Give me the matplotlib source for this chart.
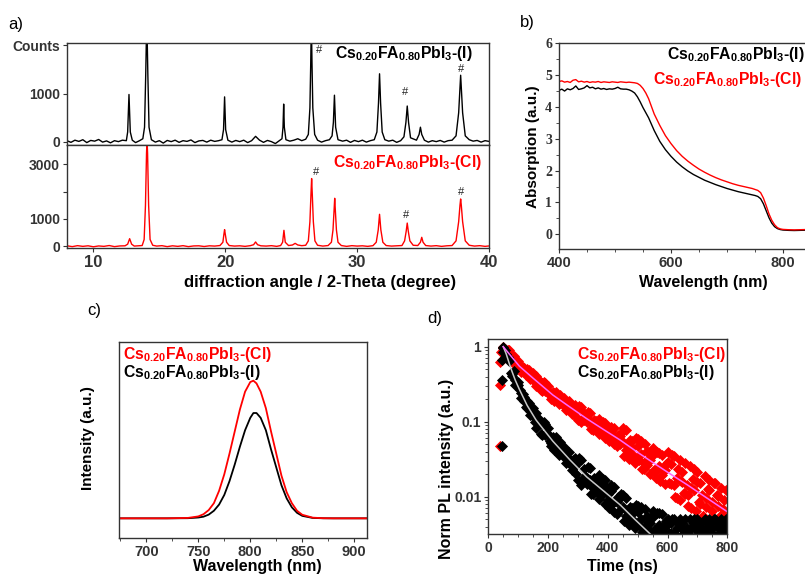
import matplotlib
matplotlib.use('Agg')
import matplotlib.pyplot as plt
from matplotlib.ticker import MultipleLocator, FixedLocator, LogLocator, NullFormatter, FixedFormatter

# ---------------- data ----------------
# a) XRD traces
xrd_I_x = [8.0, 8.3, 8.6, 8.9, 9.2, 9.5, 9.8, 10.1, 10.4, 10.7, 11.0, 11.3, 11.6, 11.9, 12.2, 12.5,
           12.6, 12.66, 12.7, 12.74, 12.8, 12.95, 13.2, 13.5, 13.75, 13.88, 13.97, 14.05, 14.13, 14.22, 14.4,
           14.7, 15.0, 15.3, 15.6, 15.9, 16.2, 16.5, 16.8, 17.1, 17.4, 17.7, 18.0, 18.3, 18.6, 18.9, 19.2, 19.5,
           19.75, 19.87, 19.92, 19.95, 19.98, 20.03, 20.2, 20.5, 20.8, 21.1, 21.4, 21.7, 22.0, 22.3, 22.6, 22.9,
           23.2, 23.5, 23.8, 24.1, 24.3, 24.38, 24.43, 24.48, 24.6, 24.9, 25.2, 25.5, 25.8, 26.1, 26.3, 26.42,
           26.48, 26.53, 26.58, 26.64, 26.78, 27.0, 27.3, 27.6, 27.9, 28.1, 28.2, 28.25, 28.28, 28.31, 28.37,
           28.55, 28.9, 29.2, 29.5, 29.8, 30.1, 30.4, 30.7, 31.0, 31.3, 31.5, 31.62, 31.7, 31.78, 31.9, 32.1,
           32.4, 32.7, 33.0, 33.3, 33.55, 33.7, 33.8, 33.9, 34.05, 34.5, 34.7, 34.8, 34.9, 35.1, 35.4, 35.7,
           36.0, 36.3, 36.6, 36.9, 37.2, 37.5, 37.7, 37.85, 38.0, 38.2, 38.5, 38.8, 39.1, 39.4, 39.7, 40.0]
xrd_I_y = [20, -15, 30, 5, 40, -20, 25, 10, 45, -10, 15, -25, 20, 0, 30, 20,
           200, 650, 980, 650, 200, 30, -20, 20, 60, 300, 1400, 2600, 1400, 300, 40,
           -10, 20, -30, 25, 0, 30, -15, 20, 5, 35, -20, 15, 25, -10, 30, 5, 20,
           40, 250, 650, 930, 650, 250, 30, -10, 25, 0, 30, -20, 20, 110, 30, -15,
           25, 0, -40, 20, 60, 300, 780, 300, 40, 10, 30, 60, 20, 50, 150, 700,
           1600, 2500, 1600, 700, 150, 30, -10, 20, 40, 120, 400, 750, 965, 750, 300,
           40, 10, 30, -15, 25, 0, 30, -10, 20, 40, 200, 800, 1410, 800, 200, 40,
           10, 30, -15, 20, 100, 400, 740, 400, 80, 30, 150, 300, 150, 30, -10, 20,
           0, 25, -10, 20, 30, 120, 600, 1380, 600, 120, 40, 10, 25, -10, 20, 5]

xrd_Cl_x = [8.0, 8.4, 8.8, 9.2, 9.6, 10.0, 10.4, 10.8, 11.2, 11.6, 12.0, 12.4, 12.6, 12.75, 12.9, 13.1, 13.4, 13.7,
            13.85, 13.95, 14.03, 14.07, 14.11, 14.19, 14.3, 14.5, 14.8, 15.2, 15.6, 16.0, 16.4, 16.8, 17.2, 17.6,
            18.0, 18.4, 18.8, 19.2, 19.6, 19.82, 19.9, 19.95, 20.0, 20.1, 20.3, 20.7, 21.1, 21.5, 21.9, 22.15,
            22.3, 22.45, 22.7, 23.1, 23.5, 23.9, 24.2, 24.35, 24.45, 24.55, 24.8, 25.1, 25.3, 25.5, 25.8, 26.1,
            26.3, 26.42, 26.5, 26.55, 26.6, 26.68, 26.8, 27.0, 27.4, 27.8, 28.05, 28.17, 28.25, 28.3, 28.35,
            28.43, 28.55, 28.8, 29.2, 29.6, 30.0, 30.4, 30.8, 31.2, 31.45, 31.6, 31.7, 31.8, 31.95, 32.2, 32.6,
            33.0, 33.4, 33.6, 33.72, 33.8, 33.88, 34.0, 34.25, 34.6, 34.8, 34.9, 35.0, 35.2, 35.6, 36.0, 36.4,
            36.8, 37.2, 37.5, 37.7, 37.8, 37.85, 37.9, 38.0, 38.2, 38.5, 38.9, 39.3, 39.7, 40.0]
xrd_Cl_y = [20, -10, 25, 0, 20, -15, 15, 0, 30, -10, 15, 20, 80, 280, 80, 10, 20, 30,
            250, 1500, 3400, 3900, 3400, 1500, 250, 40, 10, 25, -10, 20, 0, 25, -10, 15,
            20, -5, 20, 10, 30, 150, 450, 610, 450, 150, 30, 10, 20, 0, 25, 60,
            160, 60, 20, 10, 25, 0, 30, 150, 585, 150, 30, 50, 110, 50, 25, 40,
            200, 900, 1900, 2475, 1900, 900, 200, 40, 10, 30, 150, 600, 1300, 1755, 1300,
            600, 150, 30, 0, 25, 10, 20, 0, 25, 150, 600, 1170, 600, 150, 30, 10,
            20, 30, 200, 550, 850, 550, 200, 40, 30, 150, 330, 150, 30, 10, 25, 0,
            20, 30, 200, 900, 1500, 1730, 1500, 900, 200, 40, 10, 25, 0, 15]

hash_I_x = [27.14, 33.66, 37.85]
hash_I_y = [1900, 1035, 1500]
hash_Cl_x = [26.9, 33.74, 37.85]
hash_Cl_y = [2716, 1127, 1975]

# b) absorption
abs_x = [400, 405, 410, 415, 420, 425, 430, 435, 440, 445, 450, 455, 460, 465, 470, 475, 480, 485, 490, 495,
         500, 505, 510, 515, 520, 525, 530, 535, 540, 545, 550, 555, 560, 565,
         570, 580, 590, 600, 610, 620, 630, 640, 650, 660, 670, 680, 690, 700, 710, 720, 730, 740,
         745, 750, 755, 760, 765, 770, 775, 780, 785, 790, 795, 800,
         810, 820, 830, 840, 850]
abs_I = [4.52, 4.56, 4.50, 4.57, 4.54, 4.58, 4.66, 4.55, 4.57, 4.60, 4.67, 4.60, 4.62, 4.57, 4.60, 4.56, 4.58, 4.55, 4.57, 4.56,
         4.58, 4.62, 4.57, 4.56, 4.56, 4.54, 4.50, 4.44, 4.32, 4.16, 3.98, 3.82, 3.66, 3.46,
         3.26, 2.92, 2.66, 2.45, 2.27, 2.12, 1.99, 1.88, 1.79, 1.70, 1.63, 1.56, 1.50, 1.44, 1.39, 1.34, 1.30, 1.26,
         1.24, 1.22, 1.19, 1.12, 0.96, 0.74, 0.52, 0.35, 0.24, 0.18, 0.15, 0.135,
         0.125, 0.12, 0.125, 0.13, 0.13]
abs_Cl = [4.80, 4.82, 4.78, 4.80, 4.77, 4.84, 4.86, 4.79, 4.81, 4.78, 4.80, 4.77, 4.79, 4.78, 4.80, 4.77, 4.79, 4.78, 4.77, 4.79,
          4.78, 4.77, 4.79, 4.78, 4.77, 4.78, 4.77, 4.76, 4.74, 4.68, 4.58, 4.44, 4.26, 4.02,
          3.78, 3.42, 3.10, 2.85, 2.63, 2.45, 2.30, 2.17, 2.05, 1.95, 1.86, 1.78, 1.71, 1.65, 1.59, 1.54, 1.50, 1.46,
          1.44, 1.41, 1.38, 1.31, 1.14, 0.90, 0.64, 0.44, 0.30, 0.21, 0.17, 0.155,
          0.145, 0.14, 0.145, 0.15, 0.15]

# c) PL spectra
pl_x = [674, 700, 720, 740, 750, 755, 760, 765, 770, 775, 780, 785, 790, 795, 800, 803, 806, 810, 815, 820,
        825, 830, 835, 840, 845, 850, 860, 870, 880, 912]
pl_Cl = [0, 0, 0, 0.003, 0.014, 0.03, 0.06, 0.11, 0.2, 0.32, 0.47, 0.63, 0.79, 0.92, 0.99, 1.0, 0.98, 0.92, 0.8, 0.63,
         0.47, 0.31, 0.19, 0.11, 0.055, 0.026, 0.005, 0.001, 0, 0]
pl_I = [0, 0, 0, 0.001, 0.006, 0.012, 0.027, 0.055, 0.1, 0.17, 0.27, 0.39, 0.52, 0.64, 0.73, 0.765, 0.765, 0.73, 0.64, 0.5,
        0.37, 0.24, 0.145, 0.08, 0.04, 0.018, 0.003, 0.0005, 0, 0]

# d) TRPL decays (scattered data points, three interleaved read-outs per trace)
trpl_t = list(range(50, 801, 10))
trpl_t_b = list(range(55, 796, 10))
red_a = [1.0, 0.841, 0.849, 0.638, 0.642, 0.644, 0.466, 0.512, 0.419, 0.412,
         0.445, 0.298, 0.324, 0.324, 0.255, 0.3, 0.201, 0.238, 0.207, 0.178,
         0.197, 0.145, 0.187, 0.139, 0.142, 0.105, 0.156, 0.131, 0.098, 0.103,
         0.077, 0.103, 0.108, 0.073, 0.061, 0.073, 0.076, 0.082, 0.048, 0.051,
         0.054, 0.077, 0.039, 0.055, 0.028, 0.059, 0.037, 0.028, 0.041, 0.020,
         0.044, 0.022, 0.0255, 0.036, 0.0149, 0.029, 0.0149, 0.0353, 0.0178, 0.0091,
         0.0215, 0.0277, 0.0104, 0.0071, 0.0124, 0.0216, 0.015, 0.0056, 0.0072, 0.0169,
         0.0086, 0.0044, 0.0103, 0.0132, 0.005, 0.0063]
red_b = [0.946, 0.898, 0.675, 0.76, 0.572, 0.545, 0.534, 0.415, 0.482, 0.373,
         0.338, 0.367, 0.266, 0.339, 0.268, 0.228, 0.247, 0.25, 0.171, 0.188,
         0.207, 0.166, 0.143, 0.158, 0.116, 0.161, 0.107, 0.113, 0.134, 0.079,
         0.106, 0.079, 0.084, 0.0995, 0.0837, 0.0557, 0.0591, 0.0627, 0.0661, 0.07,
         0.0345, 0.049, 0.0566, 0.035, 0.0613, 0.0308, 0.0236, 0.0507, 0.0315, 0.0364,
         0.0225, 0.0396, 0.0163, 0.0233, 0.0269, 0.0153, 0.0363, 0.0099, 0.0235, 0.0163,
         0.0113, 0.0145, 0.0253, 0.0174, 0.0065, 0.0084, 0.0106, 0.0186, 0.0128, 0.0048,
         0.0154, 0.0106, 0.0055, 0.0069, 0.0121]
red_c = [0.96, 0.895, 0.897, 0.674, 0.571, 0.61, 0.524, 0.454, 0.5, 0.367,
         0.38, 0.411, 0.35, 0.255, 0.324, 0.256, 0.218, 0.187, 0.224, 0.227,
         0.167, 0.185, 0.16, 0.128, 0.166, 0.149, 0.098, 0.104, 0.11, 0.13,
         0.086, 0.092, 0.068, 0.092, 0.097, 0.065, 0.086, 0.051, 0.061, 0.064,
         0.0815, 0.0413, 0.0317, 0.045, 0.034, 0.048, 0.0559, 0.0231, 0.0267, 0.031,
         0.0357, 0.0178, 0.0385, 0.0194, 0.0226, 0.0396, 0.0273, 0.0141, 0.0096, 0.0312,
         0.0158, 0.011, 0.0076, 0.0132, 0.0231, 0.0158, 0.0081, 0.0056, 0.0097, 0.0124,
         0.0064, 0.0151, 0.0076, 0.0038, 0.0091, 0.0047]
blk_a = [1.0, 0.744, 0.642, 0.409, 0.36, 0.334, 0.209, 0.214, 0.153, 0.14,
         0.151, 0.083, 0.093, 0.093, 0.066, 0.083, 0.047, 0.059, 0.048, 0.038,
         0.044, 0.028, 0.04, 0.026, 0.026, 0.0166, 0.0305, 0.0234, 0.0149, 0.0166,
         0.0107, 0.0174, 0.0196, 0.0104, 0.0079, 0.0107, 0.0119, 0.0133, 0.0059, 0.0066,
         0.0073, 0.0097, 0.0051, 0.007, 0.0038, 0.0075, 0.005, 0.004, 0.0055, 0.0031,
         0.0064, 0.0036, 0.0042, 0.0059, 0.0028, 0.0044, 0.0033, 0.005, 0.0038, 0.0029,
         0.0044, 0.005, 0.0033, 0.0029, 0.0038, 0.005, 0.0044, 0.0029, 0.0033, 0.005,
         0.0038, 0.0029, 0.0044, 0.005, 0.0033, 0.0038]
blk_b = [0.9, 0.738, 0.452, 0.472, 0.298, 0.265, 0.235, 0.157, 0.175, 0.121,
         0.0997, 0.111, 0.0695, 0.0983, 0.07, 0.0552, 0.0627, 0.063, 0.0356, 0.041,
         0.0466, 0.0335, 0.0271, 0.0308, 0.0198, 0.0326, 0.0168, 0.0188, 0.0251, 0.011,
         0.018, 0.0116, 0.013, 0.0174, 0.0133, 0.0071, 0.0079, 0.0088, 0.0098, 0.011,
         0.0048, 0.0064, 0.0072, 0.0046, 0.0078, 0.0042, 0.0034, 0.0068, 0.0046, 0.0053,
         0.0036, 0.0061, 0.0028, 0.0041, 0.0048, 0.0033, 0.005, 0.0029, 0.0044, 0.0038,
         0.0033, 0.0038, 0.005, 0.0044, 0.0029, 0.0033, 0.0038, 0.005, 0.0044, 0.0029,
         0.005, 0.0044, 0.0033, 0.0038, 0.005]
blk_c = [0.95, 0.8, 0.69, 0.437, 0.313, 0.31, 0.24, 0.186, 0.19, 0.122,
         0.12, 0.132, 0.104, 0.066, 0.093, 0.066, 0.0525, 0.0419, 0.0538, 0.0542,
         0.0347, 0.0392, 0.032, 0.0229, 0.0328, 0.0288, 0.0145, 0.0162, 0.018, 0.0241,
         0.0129, 0.0145, 0.0093, 0.015, 0.0167, 0.0089, 0.0144, 0.0063, 0.0085, 0.0095,
         0.0106, 0.0056, 0.0042, 0.0058, 0.0046, 0.0062, 0.0073, 0.0033, 0.0038, 0.0045,
         0.0053, 0.003, 0.0061, 0.0034, 0.004, 0.005, 0.0044, 0.0033, 0.0029, 0.005,
         0.0038, 0.0033, 0.0029, 0.0038, 0.005, 0.0044, 0.0033, 0.0029, 0.0038, 0.0044,
         0.0033, 0.005, 0.0038, 0.0029, 0.0044, 0.0033]
red_early_t = [38, 38, 38, 43]
red_early_y = [0.048, 0.31, 0.63, 0.85]
blk_early_t = [46, 46, 46, 48]
blk_early_y = [0.048, 0.36, 0.66, 0.85]
red_fit_t = [50, 75, 104, 150, 216, 270, 329, 385, 441, 500, 554, 610, 667, 735, 800]
red_fit_y = [1.0, 0.758, 0.55, 0.38, 0.227, 0.16, 0.11, 0.079, 0.057, 0.039, 0.028, 0.02, 0.0143, 0.0094, 0.0063]
blk_fit_t = [50, 60, 75, 90, 104, 130, 160, 216, 273, 329, 385, 441, 490, 543, 560]
blk_fit_y = [1.0, 0.8, 0.52, 0.36, 0.27, 0.165, 0.105, 0.055, 0.031, 0.0184, 0.012, 0.0078, 0.005, 0.00315, 0.0028]

LBL_I = r'Cs$_{0.20}$FA$_{0.80}$PbI$_{3}$-(I)'
LBL_Cl = r'Cs$_{0.20}$FA$_{0.80}$PbI$_{3}$-(Cl)'

# ---------------- style ----------------
plt.rcParams['font.family'] = ['Liberation Sans', 'DejaVu Sans']
plt.rcParams['font.weight'] = 'bold'
plt.rcParams['mathtext.fontset'] = 'custom'
plt.rcParams['mathtext.rm'] = 'Liberation Sans:bold'
plt.rcParams['mathtext.it'] = 'Liberation Sans:bold'
plt.rcParams['mathtext.bf'] = 'Liberation Sans:bold'
plt.rcParams['axes.linewidth'] = 1.0
plt.rcParams['axes.edgecolor'] = '#333333'
for ax_ in ('x', 'y'):
    plt.rcParams[f'{ax_}tick.direction'] = 'out'
    plt.rcParams[f'{ax_}tick.major.size'] = 3
    plt.rcParams[f'{ax_}tick.minor.size'] = 2
    plt.rcParams[f'{ax_}tick.major.width'] = 0.8
    plt.rcParams[f'{ax_}tick.minor.width'] = 0.6
    plt.rcParams[f'{ax_}tick.color'] = '#333333'

W, H = 805, 576
fig = plt.figure(figsize=(W / 100, H / 100), dpi=100)


def axes_px(l, t, r, b):
    return fig.add_axes([l / W, 1 - b / H, (r - l) / W, (b - t) / H])


def ftext(x, y, s, **kw):
    fig.text(x / W, 1 - y / H, s, **kw)


RED = '#ff0000'
LFS = 11.3

# ---------------- panel a ----------------
a1 = axes_px(67, 43, 489, 145)
a1.plot(xrd_I_x, xrd_I_y, color='black', lw=1.0)
a1.set_xlim(8, 40)
a1.set_ylim(-70, 2050)
a1.yaxis.set_major_locator(FixedLocator([0, 1000, 2000]))
a1.yaxis.set_major_formatter(FixedFormatter(['0', '1000', 'Counts']))
a1.tick_params(axis='x', bottom=False, labelbottom=False)
a1.tick_params(axis='y', labelsize=10, pad=2)
for hx, hy in zip(hash_I_x, hash_I_y):
    a1.text(hx, hy, '#', fontsize=8, fontweight='normal', ha='center', va='center', color='#222222')

a2 = axes_px(67, 145, 489, 248)
a2.plot(xrd_Cl_x, xrd_Cl_y, color=RED, lw=1.0)
a2.set_xlim(8, 40)
a2.set_ylim(-60, 3700)
a2.yaxis.set_major_locator(FixedLocator([0, 1000, 2000, 3000]))
a2.yaxis.set_major_formatter(FixedFormatter(['0', '1000', '', '3000']))
a2.xaxis.set_major_locator(FixedLocator([10, 20, 30, 40]))
a2.tick_params(axis='y', labelsize=10, pad=2)
a2.tick_params(axis='x', labelsize=12, pad=2)
for hx, hy in zip(hash_Cl_x, hash_Cl_y):
    a2.text(hx, hy, '#', fontsize=8, fontweight='normal', ha='center', va='center', color='#222222')

ftext(335, 58, LBL_I, fontsize=LFS, fontweight='bold', color='black', ha='left', va='baseline')
ftext(333, 167, LBL_Cl, fontsize=LFS, fontweight='bold', color=RED, ha='left', va='baseline')
ftext(320, 283, 'diffraction angle / 2-Theta (degree)', fontsize=12, fontweight='bold', ha='center', va='center')
ftext(8, 25, 'a)', fontsize=12, fontweight='normal', ha='left', va='center')

# ---------------- panel b ----------------
b = axes_px(559, 43.3, 811, 249.3)
b.plot(abs_x, abs_I, color='black', lw=1.0)
b.plot(abs_x, abs_Cl, color=RED, lw=1.0)
b.set_xlim(400, 850)
b.set_ylim(-0.47, 6)
b.xaxis.set_major_locator(FixedLocator([400, 600, 800]))
b.xaxis.set_minor_locator(MultipleLocator(50))
b.yaxis.set_major_locator(MultipleLocator(1))
b.yaxis.set_minor_locator(MultipleLocator(0.5))
b.tick_params(axis='x', labelsize=10.5, pad=2)
b.tick_params(axis='y', labelsize=10, pad=2)
for lab in b.get_yticklabels():
    lab.set_fontfamily('Liberation Serif')
    lab.set_fontweight('bold')
ftext(533, 147, 'Absorption (a.u.)', fontsize=11, fontweight='bold', rotation=90, ha='center', va='center')
ftext(703, 283, 'Wavelength (nm)', fontsize=11.5, fontweight='bold', ha='center', va='center')
ftext(667, 59, LBL_I, fontsize=LFS, fontweight='bold', color='black', ha='left', va='baseline')
ftext(653, 84, LBL_Cl, fontsize=LFS, fontweight='bold', color=RED, ha='left', va='baseline')
ftext(520, 22, 'b)', fontsize=12, fontweight='normal', ha='left', va='center')

# ---------------- panel c ----------------
c = axes_px(119.3, 341.7, 366.7, 538.3)
c.plot(pl_x, pl_I, color='black', lw=1.3)
c.plot(pl_x, pl_Cl, color=RED, lw=1.3)
c.set_xlim(674, 912)
c.set_ylim(-0.145, 1.283)
c.xaxis.set_major_locator(MultipleLocator(50))
c.xaxis.set_minor_locator(MultipleLocator(25))
c.yaxis.set_major_locator(FixedLocator([]))
c.tick_params(axis='x', labelsize=10.5, pad=2)
ftext(88, 438, 'Intensity (a.u.)', fontsize=11, fontweight='bold', rotation=90, ha='center', va='center')
ftext(257, 567, 'Wavelength (nm)', fontsize=11.5, fontweight='bold', ha='center', va='center')
ftext(123, 359, LBL_Cl, fontsize=LFS, fontweight='bold', color=RED, ha='left', va='baseline')
ftext(123, 377, LBL_I, fontsize=LFS, fontweight='bold', color='black', ha='left', va='baseline')
ftext(87, 311, 'c)', fontsize=12, fontweight='normal', ha='left', va='center')

# ---------------- panel d ----------------
d = axes_px(488.3, 339.3, 727.3, 534.3)
d.set_yscale('log')
mk = dict(marker='D', s=32, linewidths=0)
for tt, yy in ((trpl_t, red_a), (trpl_t_b, red_b), (trpl_t, red_c), (red_early_t, red_early_y)):
    d.scatter(tt, yy, color=RED, **mk)
for tt, yy in ((trpl_t, blk_a), (trpl_t_b, blk_b), (trpl_t, blk_c), (blk_early_t, blk_early_y)):
    d.scatter(tt, yy, color='black', **mk)
d.plot(blk_fit_t, blk_fit_y, color='#c8c8c8', lw=1.1)
d.plot(red_fit_t, red_fit_y, color='#ff66ff', lw=1.1)
d.set_xlim(0, 800)
d.set_ylim(0.00315, 1.255)
d.xaxis.set_major_locator(MultipleLocator(200))
d.xaxis.set_minor_locator(MultipleLocator(50))
d.yaxis.set_major_locator(FixedLocator([0.01, 0.1, 1]))
d.yaxis.set_major_formatter(FixedFormatter(['0.01', '0.1', '1']))
d.yaxis.set_minor_locator(LogLocator(base=10, subs=range(2, 10)))
d.yaxis.set_minor_formatter(NullFormatter())
d.tick_params(axis='both', labelsize=10, pad=2)
ftext(446, 469, 'Norm PL intensity (a.u.)', fontsize=11.5, fontweight='bold', rotation=90, ha='center', va='center')
ftext(622, 567, 'Time (ns)', fontsize=11.5, fontweight='bold', ha='center', va='center')
ftext(577, 359, LBL_Cl, fontsize=LFS, fontweight='bold', color=RED, ha='left', va='baseline')
ftext(577, 377, LBL_I, fontsize=LFS, fontweight='bold', color='black', ha='left', va='baseline')
ftext(427, 318, 'd)', fontsize=12, fontweight='normal', ha='left', va='center')

fig.savefig('out.png', dpi=100)
